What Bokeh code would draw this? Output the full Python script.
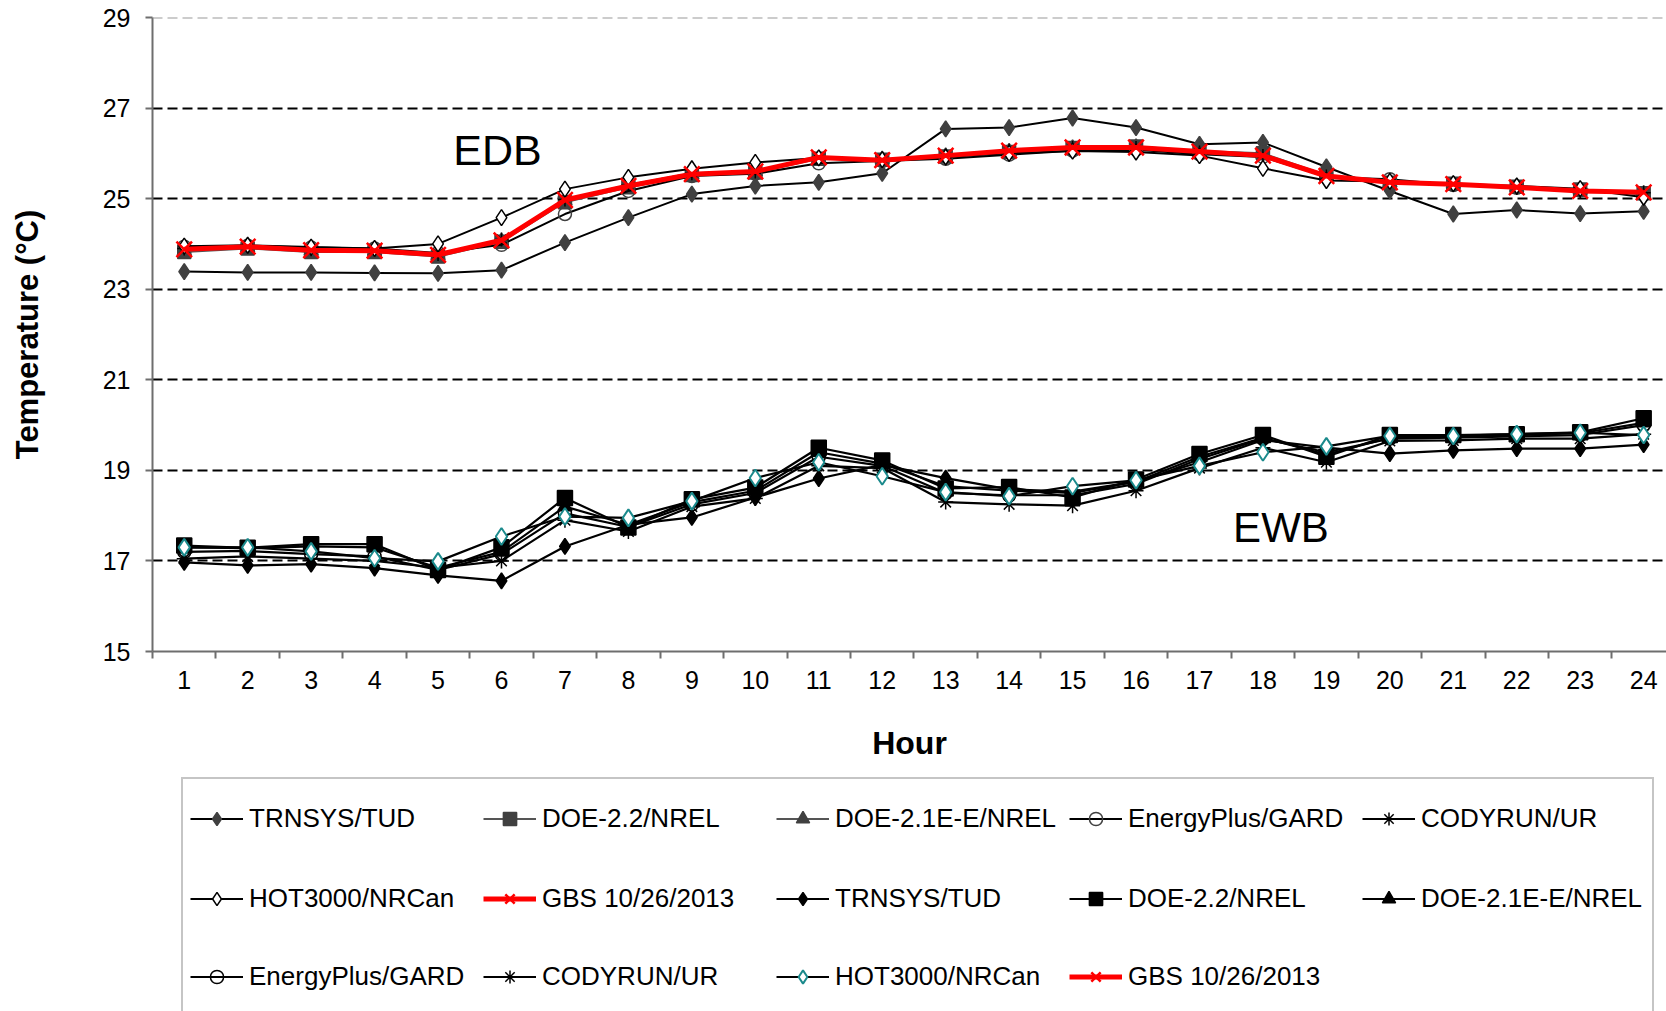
from bokeh.plotting import figure
from bokeh.layouts import column
from bokeh.models import Range1d, FixedTicker, Legend, LegendItem, Span, Label
from bokeh.embed import file_html
from bokeh.resources import INLINE

# ---------------- data ----------------
hours = list(range(1, 25))
hour_labels = [str(h) for h in hours]
y_ticks = [15, 17, 19, 21, 23, 25, 27, 29]
grid_levels = [17, 19, 21, 23, 25, 27]

# EDB (dry bulb)
edb_trnsys = [23.39, 23.37, 23.37, 23.36, 23.35, 23.42, 24.03, 24.58, 25.10, 25.28, 25.36, 25.56,
              26.54, 26.57, 26.78, 26.57, 26.20, 26.24, 25.70, 25.17, 24.66, 24.75, 24.67, 24.72]
edb_doe22 = [23.82, 23.90, 23.82, 23.82, 23.72, 24.05, 24.92, 25.25, 25.52, 25.58, 25.88, 25.86,
             25.93, 26.03, 26.12, 26.15, 26.05, 26.00, 25.52, 25.35, 25.33, 25.26, 25.20, 25.12]
edb_doe21e = [23.84, 23.92, 23.84, 23.84, 23.74, 24.06, 24.95, 25.27, 25.53, 25.59, 25.89, 25.87,
              25.94, 26.04, 26.12, 26.14, 26.04, 25.98, 25.51, 25.35, 25.32, 25.25, 25.19, 25.11]
edb_eplus = [23.94, 23.96, 23.92, 23.90, 23.80, 23.98, 24.66, 25.17, 25.50, 25.55, 25.78, 25.83,
             25.88, 25.97, 26.06, 26.08, 25.98, 25.92, 25.48, 25.43, 25.30, 25.24, 25.18, 25.10]
edb_codyrun = [23.90, 23.95, 23.88, 23.87, 23.78, 24.10, 24.98, 25.30, 25.56, 25.60, 25.92, 25.84,
               25.94, 26.05, 26.12, 26.12, 26.02, 25.94, 25.49, 25.37, 25.31, 25.24, 25.16, 25.13]
edb_hot3000 = [23.95, 23.97, 23.93, 23.90, 24.00, 24.58, 25.21, 25.47, 25.66, 25.80, 25.90, 25.86,
               25.92, 26.00, 26.05, 26.03, 25.95, 25.67, 25.40, 25.38, 25.33, 25.28, 25.22, 25.03]
edb_gbs = [23.88, 23.94, 23.86, 23.85, 23.76, 24.08, 24.97, 25.28, 25.54, 25.60, 25.91, 25.85,
           25.95, 26.06, 26.13, 26.13, 26.04, 25.95, 25.50, 25.36, 25.32, 25.25, 25.17, 25.14]

# EWB (wet bulb)
ewb_trnsys = [16.97, 16.90, 16.93, 16.84, 16.68, 16.56, 17.32, 17.80, 17.96, 18.40, 18.82, 19.12,
              18.83, 18.58, 18.53, 18.75, 19.18, 19.67, 19.50, 19.37, 19.44, 19.48, 19.48, 19.57]
ewb_doe22 = [17.34, 17.29, 17.37, 17.37, 16.80, 17.30, 18.39, 17.74, 18.36, 18.62, 19.50, 19.22,
             18.60, 18.63, 18.40, 18.80, 19.36, 19.78, 19.30, 19.78, 19.78, 19.80, 19.84, 20.15]
ewb_doe21e = [17.30, 17.28, 17.32, 17.30, 16.85, 17.20, 18.20, 17.80, 18.30, 18.55, 19.40, 19.15,
              18.65, 18.55, 18.50, 18.75, 19.30, 19.72, 19.35, 19.72, 19.74, 19.78, 19.82, 20.05]
ewb_eplus = [17.20, 17.22, 17.15, 17.10, 16.80, 17.15, 18.05, 17.75, 18.25, 18.50, 19.30, 19.10,
             18.50, 18.45, 18.45, 18.70, 19.25, 19.70, 19.40, 19.70, 19.72, 19.75, 19.78, 20.00]
ewb_codyrun = [17.05, 17.10, 17.05, 17.00, 16.85, 17.00, 17.90, 17.65, 18.20, 18.38, 19.10, 19.05,
               18.30, 18.25, 18.22, 18.55, 19.05, 19.50, 19.18, 19.65, 19.66, 19.70, 19.70, 19.80]
ewb_hot3000 = [17.30, 17.30, 17.21, 17.06, 16.99, 17.54, 17.98, 17.95, 18.32, 18.83, 19.18, 18.87,
               18.52, 18.43, 18.65, 18.78, 19.10, 19.40, 19.53, 19.76, 19.76, 19.80, 19.83, 19.78]
ewb_gbs = []  # no EWB values plotted for GBS

# ---------------- styles ----------------
FONT = "Liberation Sans"
GRAY = "#404040"
GLINE = "#555555"
TEAL = "#1b8a8c"
RED = "#ff0000"
AX = "#6e6e6e"


def sty(line_color, line_width, marker, size, fill, mline, mwidth=1.5, fill_alpha=1.0):
    return dict(line_color=line_color, line_width=line_width, marker=marker, size=size,
                fill=fill, mline=mline, mwidth=mwidth, fill_alpha=fill_alpha)


series_list = [
    ("TRNSYS/TUD", edb_trnsys, sty("black", 2, "diamond", 16, GRAY, GRAY)),
    ("DOE-2.2/NREL", edb_doe22, sty(GLINE, 2, "square", 13, GRAY, GRAY)),
    ("DOE-2.1E-E/NREL", edb_doe21e, sty(GLINE, 2, "triangle", 14, GRAY, GRAY)),
    ("EnergyPlus/GARD", edb_eplus, sty("black", 2, "circle", 13, "white", GRAY, 1.5, 0.0)),
    ("CODYRUN/UR", edb_codyrun, sty("black", 2, "asterisk", 14, "black", "black")),
    ("HOT3000/NRCan", edb_hot3000, sty("black", 2, "diamond", 16, "white", "black", 1.5)),
    ("GBS 10/26/2013", edb_gbs, sty(RED, 5, "x", 22, RED, RED, 2.5)),
    ("TRNSYS/TUD", ewb_trnsys, sty("black", 2.2, "diamond", 16, "black", "black")),
    ("DOE-2.2/NREL", ewb_doe22, sty("black", 2.2, "square", 15, "black", "black")),
    ("DOE-2.1E-E/NREL", ewb_doe21e, sty("black", 2.2, "triangle", 14, "black", "black")),
    ("EnergyPlus/GARD", ewb_eplus, sty("black", 2.2, "circle", 13, "white", "black", 1.5, 0.0)),
    ("CODYRUN/UR", ewb_codyrun, sty("black", 2.2, "asterisk", 15, "black", "black")),
    ("HOT3000/NRCan", ewb_hot3000, sty("black", 2.2, "diamond", 17, "white", TEAL, 2)),
    ("GBS 10/26/2013", ewb_gbs, sty(RED, 5, "x", 22, RED, RED, 2.5)),
]


def draw(fig, xs, ys, s):
    r_line = fig.line(xs, ys, line_color=s["line_color"], line_width=s["line_width"])
    r_pts = fig.scatter(xs, ys, marker=s["marker"], size=s["size"], fill_color=s["fill"],
                        fill_alpha=s["fill_alpha"], line_color=s["mline"], line_width=s["mwidth"])
    return [r_line, r_pts]


# ---------------- main chart ----------------
W = 1666
H1 = 775
BL = 152
p = figure(width=W, height=H1, output_backend="svg", toolbar_location=None,
           x_range=Range1d(0.5, 24.36), y_range=Range1d(15, 29),
           min_border_left=BL, min_border_right=0, min_border_top=17, min_border_bottom=124)
p.outline_line_color = None
p.background_fill_color = "white"
p.border_fill_color = "white"
p.title.visible = False

xa = p.xaxis[0]
xa.ticker = FixedTicker(ticks=hours, minor_ticks=[h - 0.5 for h in hours] + [hours[-1] + 0.5])
xa.major_label_overrides = {h: s for h, s in zip(hours, hour_labels)}
xa.axis_line_color = AX
xa.axis_line_width = 2
xa.major_tick_line_color = None
xa.major_tick_in = 0
xa.major_tick_out = 7
xa.minor_tick_line_color = AX
xa.minor_tick_line_width = 2
xa.minor_tick_in = 0
xa.minor_tick_out = 7
xa.major_label_text_font = FONT
xa.major_label_text_font_size = "25px"
xa.major_label_text_color = "black"
xa.major_label_standoff = 12
xa.axis_label = "Hour"
xa.axis_label_text_font = FONT
xa.axis_label_text_font_style = "bold"
xa.axis_label_text_font_size = "32px"
xa.axis_label_text_color = "black"
xa.axis_label_standoff = 33

ya = p.yaxis[0]
ya.ticker = FixedTicker(ticks=y_ticks, minor_ticks=[])
ya.axis_line_color = AX
ya.axis_line_width = 2
ya.major_tick_line_color = AX
ya.major_tick_line_width = 2
ya.major_tick_in = 0
ya.major_tick_out = 7
ya.minor_tick_line_color = None
ya.major_label_text_font = FONT
ya.major_label_text_font_size = "25px"
ya.major_label_text_color = "black"
ya.major_label_standoff = 15
ya.axis_label = "Temperature (°C)"
ya.axis_label_text_font = FONT
ya.axis_label_text_font_style = "bold"
ya.axis_label_text_font_size = "31px"
ya.axis_label_text_color = "black"
ya.axis_label_standoff = 55

p.xgrid.visible = False
p.ygrid.ticker = FixedTicker(ticks=grid_levels)
p.ygrid.grid_line_color = "black"
p.ygrid.grid_line_width = 2
p.ygrid.grid_line_dash = "10 5"
p.add_layout(Span(location=y_ticks[-1], dimension="width", line_color="#9a9a9a",
                  line_width=2, line_dash="10 5"))

for label, ys, s in series_list:
    if len(ys):
        draw(p, hours[:len(ys)], ys, s)

p.add_layout(Label(x=5.24, y=26.08, text="EDB", text_font=FONT, text_font_size="43px",
                   text_baseline="middle", text_align="left", text_color="black"))
p.add_layout(Label(x=17.53, y=17.74, text="EWB", text_font=FONT, text_font_size="42px",
                   text_baseline="middle", text_align="left", text_color="black"))

# ---------------- legend panel ----------------
# A second, axis-less figure holds the legend box; its ranges are chosen so
# that the proxy renderers (which carry the series styles) fall outside it.
H2 = 1011 - H1
q = figure(width=W, height=H2, output_backend="svg", toolbar_location=None,
           x_range=Range1d(100, 200), y_range=Range1d(100, 200),
           min_border_left=BL, min_border_right=0, min_border_top=0, min_border_bottom=0,
           x_axis_location=None, y_axis_location=None)
q.outline_line_color = None
q.grid.visible = False
q.title.visible = False
q.background_fill_color = "white"
q.border_fill_color = "white"

proxies = [(label, draw(q, hours, ys if len(ys) else edb_gbs, s)) for label, ys, s in series_list]

box_top = 6     # px below the panel top
box_h = 258
dummy = q.line(x=hours, y=edb_gbs, line_alpha=0)
box = Legend(items=[LegendItem(label=" ", renderers=[dummy])],
             location=(181 - BL, H2 - box_top - box_h),
             glyph_width=1, glyph_height=box_h, label_width=1468, label_standoff=0, padding=0, margin=0,
             border_line_color="#8c8c8c", border_line_width=2, background_fill_color="white",
             background_fill_alpha=1.0, label_text_font_size="1px")
q.add_layout(box)

GH = 33
row_centers = [43, 123, 201]   # px below the panel top
row_slices = [(0, 5), (5, 10), (10, 14)]
for (a, b), cy in zip(row_slices, row_centers):
    leg = Legend(items=[LegendItem(label=lab, renderers=rs) for lab, rs in proxies[a:b]],
                 location=(190 - BL, H2 - (cy - GH // 2) - GH), orientation="horizontal",
                 glyph_width=53, glyph_height=GH, label_height=GH, label_width=234,
                 label_standoff=6, spacing=0, padding=0, margin=0,
                 border_line_color=None, background_fill_alpha=0.0,
                 label_text_font=FONT, label_text_font_size="26px", label_text_color="black",
                 label_text_baseline="middle")
    q.add_layout(leg)

layout = column(p, q, spacing=0)
open("out.html", "w").write(file_html(layout, INLINE))
